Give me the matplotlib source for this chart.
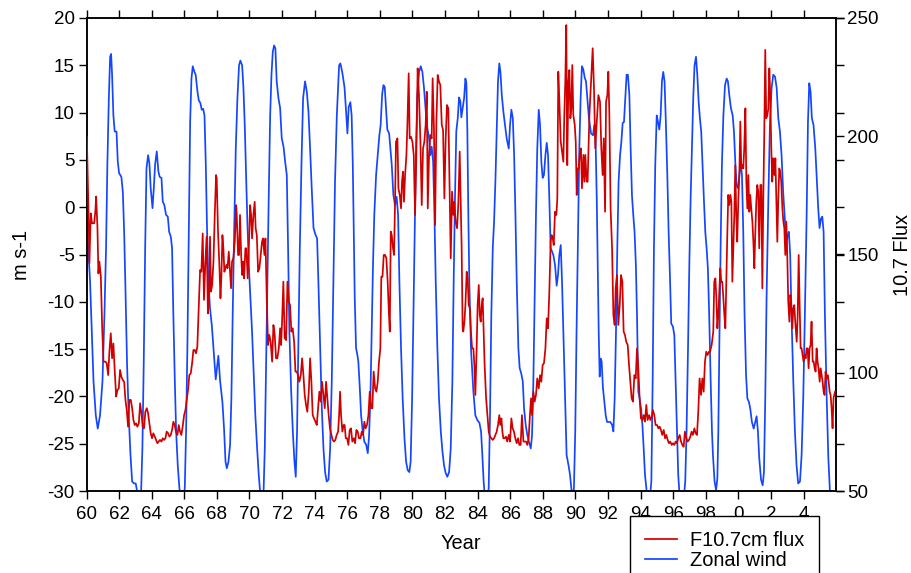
import matplotlib
matplotlib.use("Agg")
import matplotlib.pyplot as plt
from matplotlib.lines import Line2D

plt.rcParams['font.family'] = ['Liberation Sans', 'DejaVu Sans']

# ---------------- data ----------------
# Zonal wind (m s-1), left axis
wind_years = [
    1960.02, 1960.22, 1960.43, 1960.57, 1960.69, 1960.83, 1960.98, 1961.10, 1961.20, 1961.28,
    1961.37, 1961.45, 1961.51, 1961.57, 1961.65, 1961.73, 1961.84, 1961.92, 1962.00, 1962.14,
    1962.23, 1962.31, 1962.39, 1962.49, 1962.59, 1962.70, 1962.80, 1962.92, 1963.02, 1963.14,
    1963.25, 1963.35, 1963.43, 1963.51, 1963.60, 1963.68, 1963.78, 1963.86, 1963.94, 1964.05,
    1964.13, 1964.21, 1964.31, 1964.41, 1964.49, 1964.60, 1964.68, 1964.78, 1964.88, 1964.99,
    1965.07, 1965.17, 1965.25, 1965.33, 1965.42, 1965.50, 1965.60, 1965.70, 1965.81, 1965.93,
    1966.03, 1966.11, 1966.19, 1966.28, 1966.36, 1966.44, 1966.52, 1966.62, 1966.70, 1966.81,
    1966.89, 1966.99, 1967.07, 1967.16, 1967.24, 1967.32, 1967.40, 1967.48,
    1967.58, 1967.69, 1967.79, 1967.93, 1968.09, 1968.20, 1968.34, 1968.44, 1968.53, 1968.61,
    1968.71, 1968.81, 1968.89, 1968.97, 1969.06, 1969.16, 1969.26, 1969.36, 1969.44, 1969.55,
    1969.63, 1969.71, 1969.79, 1969.87, 1969.97, 1970.06, 1970.16, 1970.26, 1970.36, 1970.47,
    1970.57, 1970.65, 1970.75, 1970.86, 1970.94, 1971.02, 1971.10, 1971.18, 1971.27, 1971.35,
    1971.43, 1971.51, 1971.59, 1971.67, 1971.78, 1971.88, 1971.98, 1972.09, 1972.19, 1972.29,
    1972.37, 1972.45, 1972.56, 1972.66, 1972.76, 1972.84, 1972.92, 1973.00, 1973.09, 1973.19,
    1973.29, 1973.41, 1973.52, 1973.62, 1973.72, 1973.82, 1973.93, 1974.05, 1974.15, 1974.23,
    1974.34, 1974.44, 1974.54, 1974.64, 1974.74, 1974.85, 1974.95, 1975.05, 1975.15, 1975.25,
    1975.36,
    1975.50, 1975.58, 1975.70, 1975.83, 1975.93, 1976.01, 1976.09, 1976.19, 1976.27, 1976.34,
    1976.40, 1976.46, 1976.54, 1976.62, 1976.68, 1976.77, 1976.85, 1976.95, 1977.05, 1977.16,
    1977.26, 1977.34, 1977.42, 1977.50, 1977.58, 1977.66, 1977.77, 1977.87, 1977.97, 1978.05,
    1978.14, 1978.22, 1978.30, 1978.38, 1978.46, 1978.57, 1978.65, 1978.73, 1978.83, 1978.93,
    1979.03, 1979.12, 1979.20, 1979.30, 1979.40, 1979.51, 1979.61, 1979.71, 1979.81, 1979.89,
    1979.98, 1980.06, 1980.14, 1980.22, 1980.30, 1980.41, 1980.51, 1980.61, 1980.71, 1980.82,
    1980.92, 1981.02, 1981.10, 1981.18, 1981.27, 1981.35, 1981.43, 1981.53, 1981.63, 1981.74,
    1981.84, 1981.94, 1982.04, 1982.14, 1982.25, 1982.35, 1982.45, 1982.53, 1982.61, 1982.69,
    1982.78, 1982.86, 1982.94, 1983.00,
    1983.17, 1983.25, 1983.31, 1983.37, 1983.43, 1983.49, 1983.59, 1983.74, 1983.86, 1983.98,
    1984.11, 1984.21, 1984.29, 1984.37, 1984.45, 1984.58, 1984.68, 1984.76, 1984.84, 1984.93,
    1985.01, 1985.09, 1985.17, 1985.25, 1985.33, 1985.40, 1985.48, 1985.58, 1985.68, 1985.78,
    1985.91, 1985.99, 1986.07, 1986.16, 1986.24, 1986.32, 1986.40, 1986.50, 1986.58, 1986.68,
    1986.77, 1986.85, 1986.95, 1987.05, 1987.15, 1987.26, 1987.34, 1987.42, 1987.50, 1987.58,
    1987.66, 1987.75, 1987.83, 1987.91, 1987.99, 1988.07, 1988.16, 1988.24, 1988.32, 1988.40,
    1988.48, 1988.57, 1988.65, 1988.75, 1988.85, 1988.93, 1989.01, 1989.10, 1989.18, 1989.26,
    1989.36, 1989.46, 1989.58, 1989.67, 1989.75, 1989.83, 1989.91, 1989.99, 1990.07, 1990.16,
    1990.24, 1990.32, 1990.40, 1990.48, 1990.57, 1990.65,
    1990.83, 1990.96, 1991.08, 1991.16, 1991.24, 1991.31, 1991.37, 1991.43, 1991.49, 1991.55,
    1991.61, 1991.69, 1991.78, 1991.86, 1991.94, 1992.04, 1992.14, 1992.25, 1992.33, 1992.41,
    1992.49, 1992.57, 1992.65, 1992.74, 1992.82, 1992.90, 1992.98, 1993.06, 1993.14, 1993.22,
    1993.31, 1993.39, 1993.47, 1993.55, 1993.63, 1993.71, 1993.78, 1993.86, 1993.94, 1994.03,
    1994.11, 1994.19, 1994.27, 1994.35, 1994.43, 1994.56, 1994.66, 1994.74, 1994.82, 1994.90,
    1994.99, 1995.07, 1995.15, 1995.23, 1995.31, 1995.39, 1995.47, 1995.55, 1995.64, 1995.72,
    1995.80, 1995.88, 1995.98, 1996.07, 1996.15, 1996.23, 1996.31, 1996.39, 1996.52, 1996.64,
    1996.74, 1996.82, 1996.91, 1996.99, 1997.07, 1997.15, 1997.23, 1997.31, 1997.40, 1997.48,
    1997.56, 1997.64, 1997.72, 1997.80, 1997.89, 1997.97, 1998.05, 1998.13, 1998.21, 1998.30,
    1998.38, 1998.44,
    1998.54, 1998.63, 1998.71, 1998.77, 1998.83, 1998.91, 1998.99, 1999.08, 1999.18, 1999.28,
    1999.36, 1999.44, 1999.54, 1999.65, 1999.73, 1999.81, 1999.89, 1999.98, 2000.06, 2000.14,
    2000.22, 2000.30, 2000.38, 2000.47, 2000.55, 2000.65, 2000.73, 2000.83, 2000.94, 2001.04,
    2001.12, 2001.20, 2001.28, 2001.39, 2001.49, 2001.57, 2001.65, 2001.73, 2001.84, 2001.94,
    2002.04, 2002.14, 2002.25, 2002.35, 2002.45, 2002.55, 2002.65, 2002.75, 2002.85, 2002.94,
    2003.02, 2003.10, 2003.18, 2003.26, 2003.37, 2003.47, 2003.57, 2003.67, 2003.78, 2003.88,
    2003.98, 2004.08, 2004.19, 2004.27, 2004.35, 2004.43, 2004.51, 2004.61, 2004.72, 2004.80,
    2004.90, 2004.98, 2005.07, 2005.15, 2005.23, 2005.31, 2005.42, 2005.52, 2005.62, 2005.66,
]
wind_ms = [
    -1.5, -7.9, -18.4, -22.0, -23.4, -22.0, -18.4, -11.4, -4.3, 4.5,
    11.5, 15.9, 16.2, 14.0, 9.7, 8.0, 8.0, 4.8, 3.6, 3.2,
    1.6, -2.6, -8.6, -16.7, -22.0, -26.2, -29.0, -29.2, -29.2, -30.4,
    -31.0, -30.1, -25.5, -16.7, -4.3, 4.1, 5.5, 4.6, 2.0, -0.1,
    2.0, 4.5, 5.9, 3.8, 3.2, 3.1, 0.6, 0.2, -0.8, -1.0,
    -2.6, -3.1, -4.3, -11.4, -18.4, -23.7, -27.3, -29.7, -31.0, -31.0,
    -29.7, -23.7, -14.9, -2.6, 9.0, 13.6, 14.9, 14.3, 14.0, 12.2,
    11.3, 11.0, 10.3, 10.4, 9.7, 4.5, -2.6, -7.9,
    -10.7, -12.5, -14.9, -18.2, -15.7, -18.4, -20.6, -23.4, -26.9, -27.6,
    -26.9, -25.1, -20.2, -11.4, -2.6, 6.2, 11.5, 15.0, 15.5, 15.0,
    12.6, 8.7, 3.4, -1.5, -6.5, -9.6, -13.2, -17.7, -22.0, -25.5,
    -28.3, -30.0, -31.0, -30.4, -25.5, -16.7, -7.9, 0.9, 9.7, 14.0,
    16.4, 17.1, 16.8, 13.3, 11.5, 10.5, 7.3, 6.4, 4.8, 3.4,
    -4.3, -13.2, -19.5, -23.7, -26.9, -28.5, -23.7, -14.9, -4.3, 4.5,
    11.5, 13.3, 12.2, 10.1, 6.2, 2.0, -2.2, -2.9, -3.3, -7.9,
    -14.9, -21.3, -25.5, -28.0, -29.0, -28.8, -25.5, -18.4, -7.9, 2.7,
    9.7,
    15.0, 15.2, 14.2, 12.7, 10.1, 7.8, 10.6, 11.1, 9.7, 4.5,
    -2.6, -9.6, -14.9, -15.6, -16.3, -19.1, -22.0, -23.7, -24.8, -25.1,
    -26.0, -24.1, -20.2, -13.2, -6.1, -0.8, 3.4, 5.5, 7.6, 8.7,
    11.9, 12.9, 12.7, 10.5, 8.2, 7.8, 6.2, 4.5, 1.3, 0.2,
    1.1, -0.8, -7.9, -14.9, -20.2, -24.4, -26.9, -27.8, -28.0, -26.9,
    -20.2, -11.4, -2.6, 6.2, 11.9, 14.3, 14.9, 14.3, 12.6, 10.1,
    8.3, 7.3, 5.5, 6.4, 4.8, -0.8, -7.9, -14.9, -20.2, -23.7,
    -25.8, -27.3, -28.1, -28.5, -28.0, -25.5, -18.4, -7.9, 0.9, 8.0,
    9.4, 11.6, 11.2, 9.5,
    11.5, 13.6, 13.1, 8.0, -0.8, -7.9, -14.9, -19.5, -22.0, -22.5,
    -22.8, -23.7, -26.2, -29.0, -30.8, -31.0, -29.7, -22.0, -11.4, -4.3,
    -1.5, 2.7, 8.0, 13.3, 15.2, 14.3, 11.9, 10.1, 8.7, 7.3,
    6.2, 8.7, 10.3, 9.4, 5.5, -0.8, -7.9, -14.9, -17.0, -17.6,
    -18.4, -21.3, -23.0, -24.1, -24.8, -25.5, -24.1, -18.4, -9.6, -0.8,
    6.2, 10.3, 8.7, 4.8, 3.1, 3.4, 5.5, 6.8, 5.5, 0.9,
    -4.3, -4.7, -5.1, -6.1, -8.3, -7.2, -5.1, -4.0, -7.9, -13.2,
    -20.2, -26.2, -27.3, -28.3, -29.7, -30.8, -29.7, -23.7, -13.2, -2.6,
    6.2, 11.5, 14.9, 14.6, 13.7, 13.3,
    9.4, 7.8, 7.6, 8.7, 6.9, 0.9, -6.1, -13.2, -17.9, -16.0,
    -16.3, -19.1, -20.6, -22.0, -22.7, -22.7, -22.7, -23.0, -23.7, -20.2,
    -13.2, -4.3, 2.7, 5.5, 6.9, 8.9, 9.0, 11.5, 14.0, 14.0,
    11.9, 6.2, 1.3, -0.8, -2.6, -6.1, -11.4, -19.5, -20.2, -21.3,
    -23.0, -25.5, -28.3, -29.7, -31.0, -31.0, -29.0, -18.4, -4.3, 4.5,
    9.7, 9.0, 8.2, 9.7, 13.3, 14.3, 13.3, 9.0, 3.4, -2.6,
    -7.2, -12.3, -12.6, -13.5, -18.4, -23.7, -28.3, -30.4, -31.0, -31.0,
    -29.0, -23.7, -14.9, -6.1, 0.9, 6.2, 11.5, 15.0, 15.9, 14.0,
    11.2, 9.4, 8.0, 4.5, 0.6, -2.6, -4.3, -6.5, -11.4, -18.4,
    -23.7, -26.2,
    -29.0, -29.9, -28.7, -23.7, -14.9, -4.3, 4.5, 9.7, 12.9, 13.6,
    13.3, 11.9, 10.5, 9.7, 8.0, 4.8, 2.3, 2.0, 3.4, 4.8,
    3.4, -2.6, -11.4, -17.7, -20.2, -20.6, -21.3, -22.7, -23.4, -22.7,
    -22.1, -23.7, -26.5, -28.8, -29.4, -28.0, -20.2, -9.6, 0.9, 9.0,
    12.6, 14.0, 13.8, 12.6, 9.4, 8.0, 5.5, 1.6, -1.2, -4.3,
    -2.9, -2.6, -5.1, -11.4, -18.4, -23.7, -27.3, -29.2, -29.0, -26.2,
    -20.2, -11.4, -0.8, 9.0, 13.1, 12.2, 9.4, 8.7, 6.2, 3.4,
    -0.1, -2.2, -1.2, -1.0, -2.6, -11.4, -20.2, -26.5, -30.1, -31.0,
]

# F10.7 cm solar flux, right axis
flux_years = [
    1960.02, 1960.12, 1960.18, 1960.26, 1960.34, 1960.47, 1960.55, 1960.59, 1960.67, 1960.73,
    1960.79, 1960.88, 1960.96, 1961.04, 1961.16, 1961.24, 1961.33, 1961.41, 1961.49, 1961.57,
    1961.65, 1961.73, 1961.82, 1961.90, 1961.98, 1962.06, 1962.14, 1962.23, 1962.31, 1962.39,
    1962.47, 1962.55, 1962.63, 1962.72, 1962.80, 1962.88, 1962.96, 1963.04, 1963.12, 1963.21,
    1963.29, 1963.37, 1963.45, 1963.53, 1963.61, 1963.70, 1963.78, 1963.86, 1963.94, 1964.02,
    1964.10, 1964.19, 1964.27, 1964.35, 1964.43, 1964.51, 1964.60, 1964.68, 1964.76, 1964.84,
    1964.92, 1965.01, 1965.09, 1965.17, 1965.25, 1965.33, 1965.41, 1965.49, 1965.58, 1965.66,
    1965.74, 1965.82, 1965.90, 1965.99, 1966.07, 1966.15, 1966.23, 1966.31, 1966.40, 1966.48,
    1966.56, 1966.64, 1966.72, 1966.80, 1966.88, 1966.97, 1967.05, 1967.13, 1967.21, 1967.29,
    1967.37, 1967.45, 1967.53,
    1967.58, 1967.64, 1967.71, 1967.79, 1967.87, 1967.95, 1967.99, 1968.07, 1968.16, 1968.22,
    1968.28, 1968.34, 1968.40, 1968.46, 1968.52, 1968.59, 1968.65, 1968.73, 1968.81, 1968.87,
    1968.93, 1969.01, 1969.10, 1969.18, 1969.22, 1969.30, 1969.36, 1969.42, 1969.49, 1969.55,
    1969.61, 1969.67, 1969.75, 1969.81, 1969.89, 1969.96, 1970.04, 1970.10, 1970.16, 1970.24,
    1970.32, 1970.38, 1970.45, 1970.53, 1970.61, 1970.69, 1970.77, 1970.83, 1970.92, 1970.98,
    1971.06, 1971.14, 1971.22, 1971.30, 1971.39, 1971.47, 1971.55, 1971.63, 1971.71, 1971.80,
    1971.88, 1971.94, 1972.00, 1972.08, 1972.16, 1972.25, 1972.33, 1972.41, 1972.49, 1972.57,
    1972.65, 1972.74, 1972.82, 1972.90, 1972.98, 1973.06, 1973.15, 1973.23, 1973.31, 1973.39,
    1973.47, 1973.55, 1973.64, 1973.72, 1973.80, 1973.88, 1973.96, 1974.05, 1974.13, 1974.21,
    1974.29, 1974.37, 1974.45, 1974.54, 1974.62, 1974.70, 1974.78, 1974.86, 1974.94, 1975.03,
    1975.11, 1975.19, 1975.27, 1975.35, 1975.44,
    1975.50, 1975.56, 1975.62, 1975.70, 1975.78, 1975.84, 1975.91, 1975.99, 1976.07, 1976.15,
    1976.23, 1976.31, 1976.40, 1976.48, 1976.56, 1976.64, 1976.72, 1976.81, 1976.89, 1976.97,
    1977.05, 1977.13, 1977.21, 1977.30, 1977.38, 1977.46, 1977.54, 1977.62, 1977.71, 1977.79,
    1977.87, 1977.95, 1978.03, 1978.09, 1978.16, 1978.24, 1978.32, 1978.40, 1978.48, 1978.56,
    1978.61, 1978.67, 1978.73, 1978.81, 1978.87, 1978.93, 1978.99, 1979.08, 1979.14, 1979.22,
    1979.30, 1979.36, 1979.42, 1979.48, 1979.55, 1979.63, 1979.69, 1979.77, 1979.83, 1979.91,
    1980.00, 1980.08, 1980.16, 1980.24, 1980.32, 1980.40, 1980.49, 1980.57, 1980.65, 1980.73,
    1980.81, 1980.88, 1980.94, 1981.02, 1981.10, 1981.18, 1981.24, 1981.32, 1981.39, 1981.47,
    1981.55, 1981.63, 1981.71, 1981.80, 1981.88, 1981.96, 1982.04, 1982.12, 1982.20, 1982.29,
    1982.35, 1982.43, 1982.51, 1982.57, 1982.65, 1982.74, 1982.82, 1982.90,
    1983.02, 1983.08, 1983.12, 1983.19, 1983.25, 1983.33, 1983.39, 1983.45, 1983.53, 1983.59,
    1983.66, 1983.74, 1983.80, 1983.86, 1983.94, 1984.00, 1984.07, 1984.13, 1984.19, 1984.25,
    1984.31, 1984.37, 1984.43, 1984.52, 1984.60, 1984.68, 1984.76, 1984.84, 1984.92, 1985.01,
    1985.09, 1985.17, 1985.25, 1985.33, 1985.39, 1985.46, 1985.52, 1985.58, 1985.66, 1985.74,
    1985.82, 1985.91, 1985.99, 1986.07, 1986.15, 1986.23, 1986.31, 1986.40, 1986.48, 1986.56,
    1986.64, 1986.72, 1986.81, 1986.89, 1986.97, 1987.05, 1987.13, 1987.21, 1987.28, 1987.34,
    1987.42, 1987.50, 1987.58, 1987.66, 1987.75, 1987.83, 1987.91, 1987.99, 1988.07, 1988.16,
    1988.24, 1988.32, 1988.40, 1988.48, 1988.54, 1988.61, 1988.67, 1988.75, 1988.83, 1988.89,
    1988.95, 1989.01, 1989.10, 1989.18, 1989.26, 1989.32, 1989.38, 1989.44, 1989.50, 1989.57,
    1989.63, 1989.69, 1989.75, 1989.81, 1989.87, 1989.96, 1990.02, 1990.08, 1990.14, 1990.20,
    1990.28, 1990.34, 1990.40, 1990.49, 1990.55, 1990.61, 1990.69,
    1990.75, 1990.86, 1990.96, 1991.06, 1991.14, 1991.22, 1991.30, 1991.41, 1991.51, 1991.59,
    1991.67, 1991.74, 1991.82, 1991.88, 1991.96, 1992.02, 1992.08, 1992.16, 1992.25, 1992.33,
    1992.41, 1992.47, 1992.55, 1992.63, 1992.72, 1992.80, 1992.88, 1992.96, 1993.04, 1993.12,
    1993.21, 1993.29, 1993.37, 1993.45, 1993.53, 1993.62, 1993.70, 1993.78, 1993.86, 1993.94,
    1994.02, 1994.11, 1994.19, 1994.27, 1994.35, 1994.43, 1994.52, 1994.60, 1994.68, 1994.76,
    1994.84, 1994.92, 1995.01, 1995.09, 1995.17, 1995.25, 1995.33, 1995.42, 1995.50, 1995.58,
    1995.66, 1995.74, 1995.82, 1995.91, 1995.99, 1996.07, 1996.15, 1996.23, 1996.31, 1996.40,
    1996.48, 1996.56, 1996.64, 1996.72, 1996.81, 1996.89, 1996.97, 1997.05, 1997.13, 1997.21,
    1997.30, 1997.38, 1997.46, 1997.54, 1997.62, 1997.71, 1997.79, 1997.87, 1997.95, 1998.03,
    1998.11, 1998.20,
    1998.26, 1998.36, 1998.46, 1998.52, 1998.59, 1998.65, 1998.71, 1998.77, 1998.83, 1998.89,
    1998.95, 1999.01, 1999.08, 1999.14, 1999.20, 1999.26, 1999.32, 1999.38, 1999.44, 1999.51,
    1999.57, 1999.63, 1999.69, 1999.75, 1999.81, 1999.87, 1999.93, 2000.00, 2000.06, 2000.12,
    2000.18, 2000.24, 2000.30, 2000.36, 2000.43, 2000.49, 2000.55, 2000.61, 2000.67, 2000.73,
    2000.79, 2000.86, 2000.92, 2000.98, 2001.04, 2001.10, 2001.16, 2001.22, 2001.28, 2001.35,
    2001.41, 2001.47, 2001.53, 2001.59, 2001.65, 2001.71, 2001.78, 2001.84, 2001.90, 2001.96,
    2002.02, 2002.08, 2002.14, 2002.21, 2002.27, 2002.33, 2002.39, 2002.45, 2002.51, 2002.57,
    2002.63, 2002.70, 2002.76, 2002.82, 2002.88, 2002.94, 2003.00, 2003.06, 2003.13, 2003.19,
    2003.25, 2003.31, 2003.37, 2003.43, 2003.49, 2003.58, 2003.64, 2003.70, 2003.76, 2003.82,
    2003.88, 2003.94, 2004.00, 2004.07, 2004.13, 2004.19, 2004.25, 2004.31, 2004.37, 2004.43,
    2004.49, 2004.56, 2004.62, 2004.68, 2004.74, 2004.80, 2004.86, 2004.92, 2004.99, 2005.05,
    2005.11, 2005.17, 2005.23, 2005.29, 2005.35, 2005.42, 2005.48, 2005.54, 2005.60, 2005.66,
    2005.72, 2005.78, 2005.84, 2005.93,
]
flux_sfu = [
    199.8, 168.8, 146.3, 167.4, 163.2, 163.2, 168.8, 174.5, 161.8, 142.0,
    147.0, 140.6, 119.5, 104.7, 104.7, 104.0, 99.0, 109.6, 116.7, 106.1,
    112.4, 101.2, 89.9, 92.7, 93.4, 101.2, 98.3, 96.9, 96.2, 88.5,
    84.2, 77.2, 88.5, 88.5, 85.0, 80.0, 77.9, 78.6, 77.2, 78.6,
    87.1, 82.8, 77.2, 76.5, 83.5, 85.0, 82.8, 78.6, 74.4, 72.3,
    74.4, 73.0, 71.6, 70.2, 70.9, 71.6, 70.9, 72.3, 71.6, 72.3,
    75.1, 74.4, 73.0, 73.7, 75.8, 79.3, 77.9, 75.1, 73.7, 77.9,
    75.1, 73.7, 77.2, 82.1, 84.2, 88.5, 92.7, 99.0, 99.8, 104.0,
    109.6, 109.6, 108.2, 111.0, 126.5, 143.4, 142.7, 158.9, 130.8, 146.3,
    157.5, 125.1, 133.6,
    157.5, 134.3, 137.1, 147.0, 166.7, 183.6, 182.2, 159.7, 144.2, 131.5,
    141.3, 158.2, 152.6, 142.7, 144.2, 145.6, 144.2, 151.2, 142.7, 135.7,
    147.0, 148.4, 155.4, 170.9, 166.7, 149.8, 149.8, 166.7, 149.8, 141.3,
    147.0, 139.9, 152.6, 152.6, 139.9, 152.6, 170.9, 166.7, 156.8, 166.7,
    172.3, 161.1, 158.2, 142.7, 144.2, 149.8, 155.4, 156.8, 149.8, 156.8,
    131.5, 111.7, 116.0, 113.1, 104.7, 120.2, 116.0, 106.1, 106.1, 110.3,
    118.8, 111.7, 121.6, 138.5, 114.6, 113.8, 138.5, 130.1, 128.6, 117.4,
    118.8, 113.1, 100.5, 100.5, 99.0, 96.2, 99.0, 106.1, 99.0, 90.6,
    86.4, 83.5, 92.0, 106.1, 96.2, 82.1, 80.7, 79.3, 77.9, 85.0,
    92.0, 87.8, 96.2, 90.6, 85.0, 96.2, 89.2, 82.1, 76.5, 73.7,
    71.6, 70.9, 71.6, 73.7, 75.1,
    82.1, 92.0, 82.1, 75.1, 77.9, 77.9, 72.3, 72.3, 69.5, 75.8,
    76.5, 70.9, 72.3, 70.2, 75.8, 75.1, 72.3, 72.3, 75.1, 73.7,
    79.3, 76.5, 77.9, 82.1, 92.0, 85.0, 85.0, 100.5, 93.4, 92.0,
    96.2, 104.7, 110.3, 140.6, 140.6, 149.8, 149.8, 148.4, 138.5, 124.4,
    117.4, 159.7, 158.2, 152.6, 149.8, 170.9, 197.6, 199.1, 178.0, 175.2,
    169.5, 180.8, 185.0, 172.3, 183.6, 192.1, 204.8, 226.6, 199.1, 199.8,
    197.6, 192.1, 166.7, 192.1, 228.7, 217.4, 197.6, 170.9, 194.9, 197.6,
    204.8, 218.8, 169.5, 192.1, 200.5, 199.1, 224.5, 203.3, 162.5, 206.2,
    225.9, 223.1, 221.7, 204.8, 202.6, 173.7, 199.1, 213.2, 211.8, 175.2,
    148.4, 176.6, 166.7, 172.3, 163.9, 161.1, 172.3, 193.5,
    152.6, 118.8, 117.4, 121.6, 128.6, 142.7, 139.9, 128.6, 127.2, 117.4,
    110.3, 110.3, 103.3, 90.6, 110.3, 128.6, 137.1, 124.4, 121.6, 128.6,
    131.5, 117.4, 103.3, 89.2, 82.1, 75.1, 73.0, 72.3, 71.6, 72.3,
    73.7, 75.1, 77.9, 82.1, 77.9, 80.7, 75.1, 72.3, 72.3, 73.0,
    70.9, 73.7, 70.9, 80.7, 76.5, 75.1, 72.3, 70.2, 72.3, 69.5,
    69.5, 82.1, 70.9, 70.9, 70.9, 69.5, 72.3, 82.1, 89.2, 82.1,
    92.0, 87.8, 90.6, 97.6, 93.4, 99.0, 96.2, 103.3, 104.0, 110.3,
    123.0, 118.8, 134.3, 155.4, 158.2, 156.8, 154.0, 168.1, 166.7, 173.7,
    227.3, 216.0, 197.7, 193.5, 189.2, 209.0, 223.1, 247.0, 187.8, 223.1,
    228.0, 207.6, 211.8, 230.1, 209.0, 204.8, 197.7, 175.2, 186.4, 186.4,
    193.5, 194.9, 178.0, 192.1, 180.8, 192.1, 180.8,
    180.8, 209.0, 223.1, 237.2, 220.3, 194.9, 204.8, 217.4, 214.6, 194.9,
    183.6, 199.1, 168.1, 214.6, 217.4, 227.3, 210.4, 169.5, 152.6, 124.4,
    120.2, 135.7, 141.3, 120.2, 128.6, 141.3, 138.5, 117.4, 116.0, 113.1,
    111.7, 103.3, 96.2, 89.2, 87.8, 99.0, 97.6, 110.3, 101.9, 89.2,
    80.7, 80.0, 82.1, 79.3, 86.4, 80.0, 82.1, 80.0, 81.4, 84.2,
    82.1, 77.9, 77.9, 76.5, 77.2, 75.8, 73.7, 75.8, 72.3, 73.7,
    71.6, 70.2, 70.9, 69.5, 70.2, 69.5, 70.9, 70.2, 72.3, 73.7,
    70.9, 69.5, 68.7, 75.1, 72.3, 70.9, 71.6, 73.0, 75.1, 73.7,
    76.5, 74.4, 73.7, 83.5, 97.6, 90.6, 97.6, 92.0, 104.7, 108.9,
    107.5, 108.9,
    108.9, 111.7, 117.4, 138.5, 139.9, 131.5, 118.8, 124.4, 134.3, 144.2,
    138.5, 138.5, 131.5, 124.4, 118.8, 138.5, 158.2, 175.2, 170.9, 175.2,
    172.3, 138.5, 152.6, 166.7, 187.8, 166.7, 155.4, 173.7, 183.6, 206.2,
    186.4, 187.8, 186.4, 194.9, 211.8, 180.8, 169.5, 183.6, 168.1, 175.2,
    169.5, 163.9, 155.4, 144.2, 159.7, 172.3, 179.4, 176.6, 152.6, 179.4,
    179.4, 135.7, 173.7, 201.9, 236.5, 207.6, 209.0, 211.8, 228.7, 216.0,
    194.9, 180.8, 190.7, 183.6, 190.7, 172.3, 155.4, 173.7, 186.4, 185.0,
    180.8, 169.5, 163.9, 161.1, 149.8, 163.9, 149.8, 130.1, 121.6, 132.9,
    128.6, 118.8, 127.2, 128.6, 121.6, 113.1, 124.4, 149.8, 128.6, 110.3,
    110.3, 107.5, 104.7, 107.5, 106.1, 110.3, 110.3, 101.9, 110.3, 111.7,
    121.6, 104.7, 104.7, 101.9, 100.5, 110.3, 104.7, 101.9, 96.2, 101.9,
    99.0, 96.2, 92.0, 90.6, 100.5, 97.6, 99.0, 96.2, 92.0, 90.6,
    85.0, 76.5, 89.2, 92.0,
]

year_ticks = list(range(1960, 2005, 2))
year_tick_labels = [str(y % 100) for y in year_ticks]
wind_ticks = list(range(-30, 21, 5))
flux_ticks = list(range(50, 251, 50))

# ---------------- figure ----------------
W, H = 911, 573
fig = plt.figure(figsize=(W / 100, H / 100), dpi=100)
L, R, T, B = 86.5, 835.5, 18, 491
ax = fig.add_axes([L / W, 1 - B / H, (R - L) / W, (B - T) / H])
ax2 = ax.twinx()

red = '#d10000'
blue = '#1446ff'

ax.plot(wind_years, wind_ms, color=blue, lw=1.25, zorder=2)
ax2.plot(flux_years, flux_sfu, color=red, lw=1.25, zorder=3)

ax.set_xlim(1960, 2005.96)
ax.set_ylim(-30, 20)
ax2.set_ylim(50, 250)

ax.set_xticks(year_ticks)
ax.set_xticklabels(year_tick_labels)
ax.set_yticks(wind_ticks)
ax.set_yticklabels([str(v) for v in wind_ticks])
ax2.set_yticks(flux_ticks)
ax2.set_yticklabels([str(v) for v in flux_ticks])

tick_fs = 13.5
ax.tick_params(axis='both', which='major', direction='out', length=5.5, width=1.0,
               labelsize=tick_fs, top=True, right=True, labelright=False, pad=3)
ax.tick_params(axis='x', pad=5)
ax2.tick_params(axis='y', direction='out', length=5.5, width=1.0, labelsize=tick_fs, pad=3)

for a in (ax, ax2):
    for s in a.spines.values():
        s.set_linewidth(1.1)

ax.set_xlabel('Year', fontsize=14.4, labelpad=8)
ax.set_ylabel('m s-1', fontsize=14.4, labelpad=12)
ax2.set_ylabel('10.7 Flux', fontsize=14.4, labelpad=10)

handles = [Line2D([], [], color=red, lw=1.25), Line2D([], [], color=blue, lw=1.25)]
leg = fig.legend(handles, ['F10.7cm flux', 'Zonal wind'], loc='upper left',
                 bbox_to_anchor=(630 / W, 1 - 516 / H), fontsize=14.4,
                 frameon=True, fancybox=False, framealpha=1, edgecolor='black',
                 handlelength=1.6, handletextpad=0.65, borderpad=0.75,
                 labelspacing=0.05, borderaxespad=0)
leg.get_frame().set_linewidth(1.0)

fig.savefig('out.png', dpi=100)
